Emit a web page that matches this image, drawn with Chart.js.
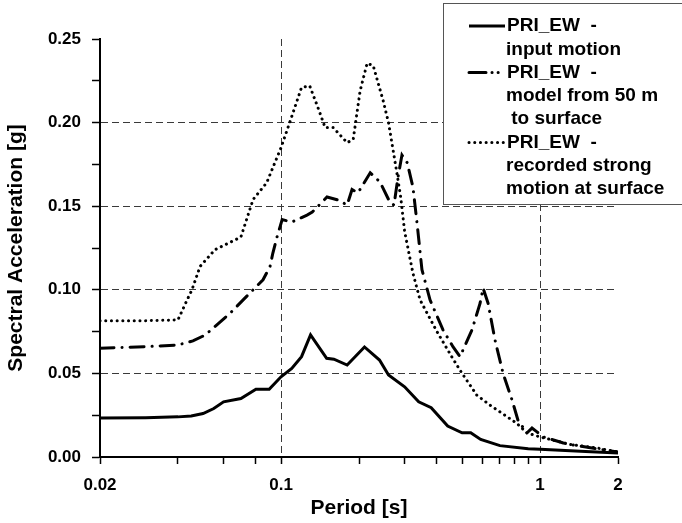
<!DOCTYPE html>
<html>
<head>
<meta charset="utf-8">
<script src="https://cdn.jsdelivr.net/npm/chart.js@4.4.0/dist/chart.umd.min.js"></script>
<style>
  body { margin: 0; background: #fff; }
  canvas { display: block; }
</style>
</head>
<body>
<canvas id="myChart" width="682" height="523"></canvas>
<script>
// Period [s] and spectral acceleration [g]
const inputPeriods = [0.02, 0.03, 0.04, 0.045, 0.05, 0.055, 0.06, 0.07, 0.08, 0.09, 0.1, 0.11, 0.12, 0.13, 0.15, 0.16, 0.18, 0.21, 0.24, 0.26, 0.3, 0.34, 0.38, 0.44, 0.5, 0.54, 0.59, 0.7, 0.9, 1.0, 1.5, 2.0];
const inputSa = [0.0233, 0.0235, 0.024, 0.0245, 0.026, 0.029, 0.033, 0.035, 0.0405, 0.0405, 0.048, 0.053, 0.060, 0.073, 0.059, 0.0585, 0.055, 0.0658, 0.058, 0.049, 0.042, 0.033, 0.0295, 0.0185, 0.0145, 0.0145, 0.0105, 0.0068, 0.005, 0.0046, 0.0033, 0.0024];

const modelPeriods = [0.02, 0.03, 0.04, 0.0457, 0.051, 0.0636, 0.078, 0.0852, 0.0907, 0.093, 0.0965, 0.101, 0.11, 0.126, 0.132, 0.138, 0.1505, 0.166, 0.18, 0.188, 0.198, 0.207, 0.221, 0.241, 0.264, 0.273, 0.283, 0.293, 0.307, 0.323, 0.335, 0.35, 0.376, 0.422, 0.461, 0.491, 0.546, 0.587, 0.603, 0.63, 0.67, 0.72, 0.78, 0.822, 0.89, 0.931, 0.973, 1.03, 1.23, 1.34, 2.0];
const modelSa = [0.065, 0.066, 0.067, 0.0694, 0.073, 0.086, 0.10, 0.106, 0.114, 0.122, 0.1316, 0.142, 0.1405, 0.1447, 0.1465, 0.1495, 0.1555, 0.1537, 0.1507, 0.160, 0.158, 0.1627, 0.170, 0.1645, 0.152, 0.1507, 0.1675, 0.1806, 0.176, 0.1615, 0.14, 0.112, 0.094, 0.076, 0.066, 0.060, 0.076, 0.092, 0.101, 0.092, 0.070, 0.050, 0.034, 0.022, 0.0144, 0.0173, 0.015, 0.012, 0.0084, 0.0072, 0.003];

const recordedPeriods = [0.02, 0.03, 0.04, 0.0434, 0.0453, 0.0487, 0.0556, 0.07, 0.078, 0.088, 0.1, 0.108, 0.12, 0.129, 0.14, 0.148, 0.159, 0.18, 0.19, 0.202, 0.215, 0.227, 0.248, 0.26, 0.28, 0.29, 0.3, 0.323, 0.344, 0.4, 0.46, 0.5, 0.57, 0.641, 0.7, 0.815, 0.89, 1.0, 1.31, 1.66, 2.0];
const recordedSa = [0.0815, 0.0815, 0.082, 0.094, 0.10, 0.114, 0.124, 0.1316, 0.154, 0.164, 0.185, 0.20, 0.221, 0.222, 0.2075, 0.197, 0.197, 0.188, 0.19, 0.219, 0.2355, 0.234, 0.213, 0.20, 0.17, 0.155, 0.135, 0.11, 0.094, 0.075, 0.059, 0.050, 0.037, 0.031, 0.027, 0.020, 0.0144, 0.012, 0.0075, 0.0054, 0.003];

const xTickValues = [0.02, 0.04, 0.06, 0.08, 0.1, 0.2, 0.3, 0.4, 0.5, 0.6, 0.7, 0.8, 0.9, 1, 2];
const xLabelValues = [0.02, 0.1, 1, 2];
const xGridValues = [0.1, 1];

const legendLabels = [
	['PRI_EW  -', 'input motion'],
	['PRI_EW  -', 'model from 50 m', ' to surface'],
	['PRI_EW  -', 'recorded strong', 'motion at surface']
];

const FONT = "'Liberation Sans', Arial, sans-serif";
const GRID = '#3a3a3a';

function toPoints(xs, ys) {
	return xs.map(function(x, i) { return { x: x, y: ys[i] }; });
}

// legend drawn on top of the plot, like the boxed legend in the figure
const boxLegend = {
	id: 'boxLegend',
	afterDraw: function(chart) {
		const ctx = chart.ctx;
		const styles = [
			{ dash: [], cap: 'butt' },
			{ dash: [17, 6, 0.1, 6, 0.1, 8], cap: 'round' },
			{ dash: [0.1, 5.6], cap: 'round' }
		];
		ctx.save();
		ctx.fillStyle = '#fff';
		ctx.fillRect(443.5, 3.5, 240, 201);
		ctx.strokeStyle = '#555';
		ctx.lineWidth = 1;
		ctx.strokeRect(443.5, 3.5, 240, 201);

		ctx.font = 'bold 19px ' + FONT;
		ctx.fillStyle = '#000';
		ctx.textBaseline = 'middle';
		let y = 26;
		legendLabels.forEach(function(lines, i) {
			ctx.save();
			ctx.strokeStyle = '#000';
			ctx.lineWidth = 3;
			ctx.setLineDash(styles[i].dash);
			ctx.lineCap = styles[i].cap;
			ctx.beginPath();
			ctx.moveTo(469, y);
			ctx.lineTo(505, y);
			ctx.stroke();
			ctx.restore();
			lines.forEach(function(t, j) {
				ctx.fillText(t, j === 0 ? 507 : 506, y);
				y += 23.3;
			});
		});
		ctx.restore();
	}
};

new Chart('myChart', {
	type: 'line',
	data: {
		datasets: [
			{
				label: 'PRI_EW - input motion',
				data: toPoints(inputPeriods, inputSa),
				borderColor: '#000',
				borderWidth: 3,
				pointRadius: 0,
				tension: 0
			},
			{
				label: 'PRI_EW - model from 50 m to surface',
				data: toPoints(modelPeriods, modelSa),
				borderColor: '#000',
				borderWidth: 3,
				borderDash: [14, 8, 0.1, 8],
				borderCapStyle: 'round',
				pointRadius: 0,
				tension: 0
			},
			{
				label: 'PRI_EW - recorded strong motion at surface',
				data: toPoints(recordedPeriods, recordedSa),
				borderColor: '#000',
				borderWidth: 3,
				borderDash: [0.1, 5.6],
				borderCapStyle: 'round',
				pointRadius: 0,
				tension: 0
			}
		]
	},
	options: {
		responsive: false,
		animation: false,
		layout: { padding: { top: 39, right: 64, left: 0, bottom: 0 } },
		plugins: {
			legend: { display: false },
			tooltip: { enabled: false }
		},
		scales: {
			x: {
				type: 'logarithmic',
				min: 0.02,
				max: 2,
				afterBuildTicks: function(scale) {
					scale.ticks = xTickValues.map(function(v) { return { value: v }; });
				},
				afterFit: function(scale) { scale.height = 66; },
				ticks: {
					autoSkip: false,
					maxRotation: 0,
					padding: 11,
					color: '#000',
					font: { family: FONT, size: 17, weight: 'bold' },
					callback: function(v) {
						return xLabelValues.indexOf(v) >= 0 ? String(v) : '';
					}
				},
				grid: {
					color: function(c) {
						return c.tick && xGridValues.indexOf(c.tick.value) >= 0 ? GRID : 'rgba(0,0,0,0)';
					},
					lineWidth: 1,
					tickColor: '#000',
					tickWidth: 1.5,
					tickLength: 7
				},
				border: { display: true, color: '#000', width: 2, dash: [7, 4] },
				title: {
					display: true,
					text: 'Period [s]',
					color: '#000',
					font: { family: FONT, size: 21, weight: 'bold' },
					padding: { top: 0, bottom: 2 }
				}
			},
			y: {
				min: 0,
				max: 0.25,
				afterBuildTicks: function(scale) {
					const t = [];
					for (let i = 0; i <= 10; i++) t.push({ value: i * 0.025 });
					scale.ticks = t;
				},
				afterFit: function(scale) { scale.width = 100; },
				ticks: {
					padding: 11,
					color: '#000',
					font: { family: FONT, size: 17, weight: 'bold' },
					callback: function(v) {
						const k = Math.round(v / 0.025);
						return k % 2 === 0 ? v.toFixed(2) : '';
					}
				},
				grid: {
					color: function(c) {
						if (!c.tick) return 'rgba(0,0,0,0)';
						const k = Math.round(c.tick.value / 0.025);
						return (k % 2 === 0 && k > 0 && k < 10) ? GRID : 'rgba(0,0,0,0)';
					},
					lineWidth: 1,
					tickColor: '#000',
					tickWidth: 1.5,
					tickLength: 8
				},
				border: { display: true, color: '#000', width: 2, dash: [7, 4] },
				title: {
					display: true,
					text: 'Spectral Acceleration [g]',
					color: '#000',
					font: { family: FONT, size: 21, weight: 'bold' },
					padding: { top: 4, bottom: 0 }
				}
			}
		}
	},
	plugins: [boxLegend]
});
</script>
</body>
</html>
